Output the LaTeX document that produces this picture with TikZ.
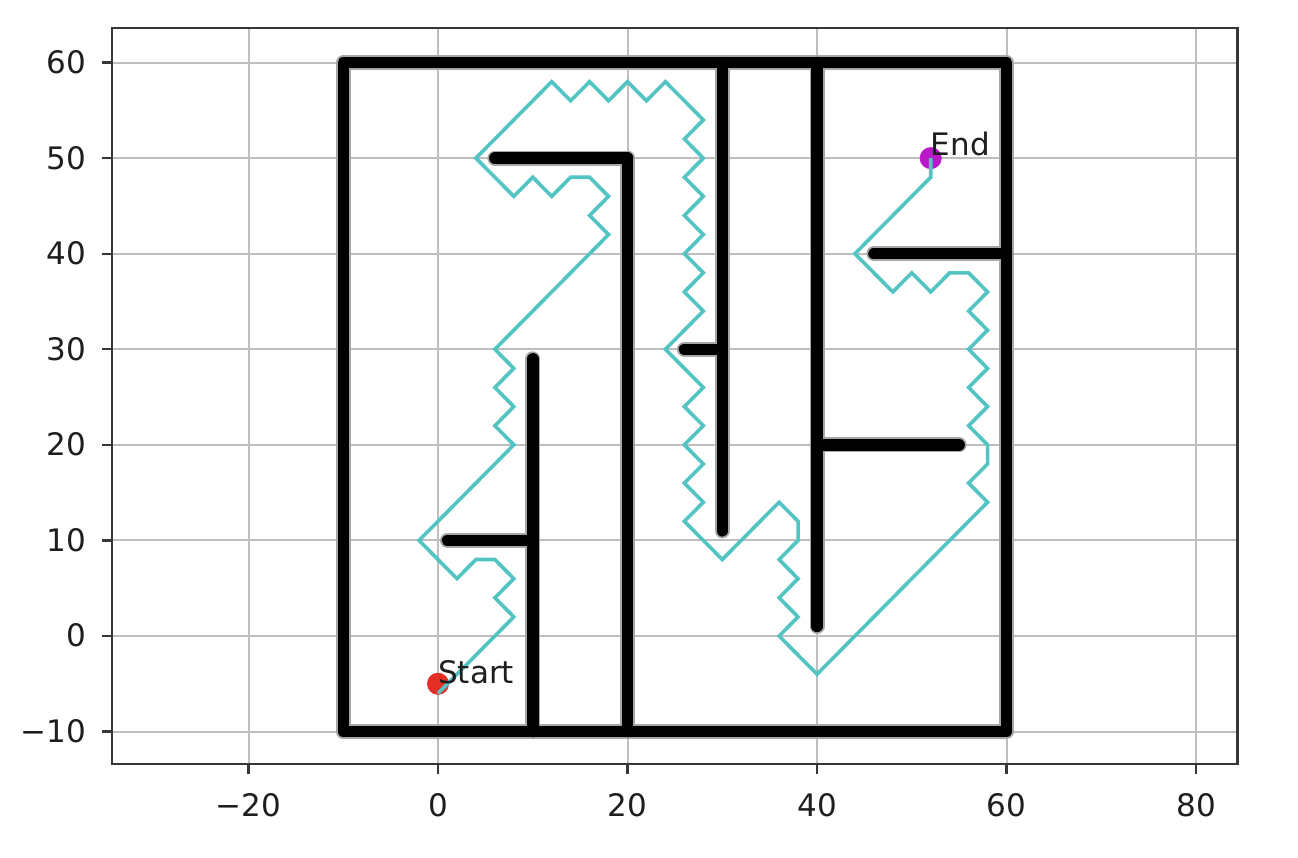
\documentclass[tikz,border=0pt]{standalone}
\usepackage{fontspec}
\setmainfont{DejaVu Sans}
\definecolor{pathc}{RGB}{82,196,196}
\definecolor{startc}{RGB}{228,45,35}
\definecolor{endc}{RGB}{185,25,200}
\definecolor{gridc}{RGB}{190,190,190}
\definecolor{framec}{RGB}{55,55,55}
\definecolor{txtc}{RGB}{30,30,30}
\begin{document}
\begin{tikzpicture}[x=1bp,y=1bp,
  gridline/.style={draw=gridc,line width=2bp},
  frameline/.style={draw=framec,line width=2.6bp},
  tickline/.style={draw=framec,line width=2.4bp},
  lbl/.style={font=\fontsize{31bp}{36bp}\selectfont,text=txtc,inner sep=0pt},
  wallhalo/.style={draw=black!35,line width=15bp,line cap=round,line join=round},
  wallcore/.style={draw=black,line width=11.5bp,line cap=round,line join=round},
  pathline/.style={draw=pathc,line width=3.6bp,line join=miter},
  marker/.style={circle,inner sep=0pt,minimum size=22bp}
]
\useasboundingbox (0,0) rectangle (1298,858);
\fill[white] (0,0) rectangle (1298,858);
\begin{scope}[shift={(438bp,222bp)},x=9.475bp,y=9.557bp]
  % grid
  \foreach \gx in {-20,0,20,40,60,80} \draw[gridline] (\gx,-13.39) -- (\gx,63.62);
  \foreach \gy in {-10,0,...,60} \draw[gridline] (-34.4,\gy) -- (84.39,\gy);
  % ticks
  \foreach \gx/\t in {-20/{−20},0/0,20/20,40/40,60/60,80/80} {
    \draw[tickline] (\gx,-13.39) -- ++(0,-10bp);
    \node[lbl,anchor=base] (xl\gx) at (\gx,-18.9) {\t};
  }
  \foreach \gy/\t in {-10/{−10},0/0,10/10,20/20,30/30,40/40,50/50,60/60} {
    \draw[tickline] (-34.4,\gy) -- ++(-10bp,0);
    \node[lbl,anchor=base east] (yl\gy) at (-37.1,\gy-1.15) {\t};
  }
  % walls
  \foreach \s in {wallhalo,wallcore} {
    \draw[\s] (-10,-10) rectangle (60,60);
    \draw[\s] (10,-10) -- (10,29);
    \draw[\s] (1,10) -- (10,10);
    \draw[\s] (20,-10) -- (20,50);
    \draw[\s] (6,50) -- (20,50);
    \draw[\s] (30,60) -- (30,11);
    \draw[\s] (26,30) -- (30,30);
    \draw[\s] (40,60) -- (40,1);
    \draw[\s] (40,20) -- (55,20);
    \draw[\s] (46,40) -- (60,40);
  }
  % start / goal markers
  \node[marker,fill=startc] (start) at (0,-5) {};
  \node[marker,fill=endc] (goal) at (52,50) {};
  % path
  \draw[pathline] (0,-6) -- (8,2) -- (6,4) -- (8,6) -- (6,8) -- (4,8) -- (2,6) -- (-2,10)
    -- (8,20) -- (6,22) -- (8,24) -- (6,26) -- (8,28) -- (6,30) -- (18,42) -- (16,44)
    -- (18,46) -- (16,48) -- (14,48) -- (12,46) -- (10,48) -- (8,46) -- (4,50) -- (12,58)
    -- (14,56) -- (16,58) -- (18,56) -- (20,58) -- (22,56) -- (24,58) -- (28,54) -- (26,52)
    -- (28,50) -- (26,48) -- (28,46) -- (26,44) -- (28,42) -- (26,40) -- (28,38) -- (26,36)
    -- (28,34) -- (24,30) -- (28,26) -- (26,24) -- (28,22) -- (26,20) -- (28,18) -- (26,16)
    -- (28,14) -- (26,12) -- (30,8) -- (36,14) -- (38,12) -- (38,10) -- (36,8) -- (38,6)
    -- (36,4) -- (38,2) -- (36,0) -- (40,-4) -- (58,14) -- (56,16) -- (58,18) -- (58,20)
    -- (56,22) -- (58,24) -- (56,26) -- (58,28) -- (56,30) -- (58,32) -- (56,34) -- (58,36)
    -- (56,38) -- (54,38) -- (52,36) -- (50,38) -- (48,36) -- (44,40) -- (52,48) -- (52,50);
  % labels
  \node[lbl,anchor=base west] (startlbl) at (0,-5) {Start};
  \node[lbl,anchor=base west] (goallbl) at (52,50.3) {End};
  % frame
  \draw[frameline] (-34.4,-13.39) rectangle (84.39,63.62);
\end{scope}
\end{tikzpicture}
\end{document}
